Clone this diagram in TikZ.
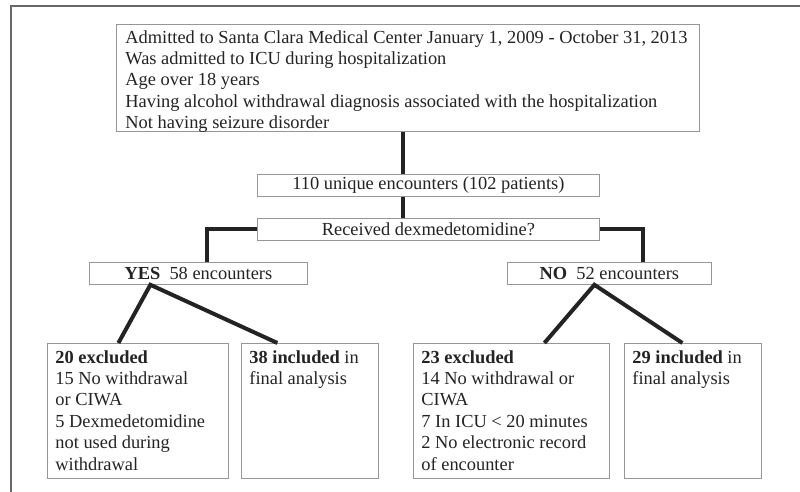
\documentclass[tikz,border=0pt]{standalone}
\usepackage{fontspec}
\setmainfont{Liberation Serif}
\definecolor{boxgray}{RGB}{150,150,150}
\definecolor{framegray}{RGB}{105,105,105}
\definecolor{inkgray}{RGB}{35,35,35}
\newcommand{\boxtext}[3]{\parbox[c][#2][t]{#1}{#3}}
\tikzset{
    common/.style={anchor=north west, draw=boxgray, line width=0.8pt, rectangle, inner sep=0pt, text=inkgray, font=\fontsize{18.4}{21.4}\selectfont},
    banner/.style={common, minimum height=22pt, align=center},
    criteria/.style={common, inner xsep=9pt},
    outcome/.style={common, inner xsep=8pt, inner ysep=7pt},
    link/.style={line width=4pt, inkgray}
}
\begin{document}
\begin{tikzpicture}[x=1pt, y=-1pt]
      \useasboundingbox (0,0) rectangle (800,492);
      \draw[framegray, line width=2pt] (11,492) -- (11,6) -- (800,6);

      \path
          (116,24) node[criteria] (top) {\boxtext{565pt}{107pt}{\vspace{6pt}Admitted to Santa Clara Medical Center January 1, 2009 - October 31, 2013\\
              Was admitted to ICU during hospitalization\\
              Age over 18 years\\
              Having alcohol withdrawal diagnosis associated with the hospitalization\\
              Not having seizure disorder}}
          (257,174) node[banner, minimum width=342pt] (enc) {110 unique encounters (102 patients)}
          (257,218) node[banner, minimum width=342pt] (ask) {Received dexmedetomidine?}
          (89,262) node[banner, minimum width=218pt] (yes) {\textbf{YES}\ \ 58 encounters}
          (507,262) node[banner, minimum width=204pt] (no) {\textbf{NO}\ \ 52 encounters};

      \path
          (47,343) node[outcome] (ex-yes) {\boxtext{165pt}{121pt}{\textbf{20 excluded}\\
              15 No withdrawal\\ or CIWA\\ 5 Dexmedetomidine\\ not used during\\ withdrawal}}
          (241,343) node[outcome] (in-yes) {\boxtext{121pt}{121pt}{\textbf{38 included} in\\ final analysis}}
          (413,343) node[outcome] (ex-no) {\boxtext{180pt}{121pt}{\textbf{23 excluded}\\
              14 No withdrawal or\\ CIWA\\ 7 In ICU < 20 minutes\\ 2 No electronic record\\ of encounter}}
          (624,343) node[outcome] (in-no) {\boxtext{121pt}{121pt}{\textbf{29 included} in\\ final analysis}};

      \draw[link] ([xshift=-4.5pt]top.south) -- ([xshift=-25pt]enc.north);
      \draw[link] ([xshift=-25pt]enc.south) -- ([xshift=-25pt]ask.north);
      \draw[link] (ask.west) -| ([xshift=9pt]yes.north);
      \draw[link] (ask.east) -| ([xshift=34pt]no.north);

      \draw[link] ([xshift=-19.5pt]ex-yes.north) -- ([xshift=-48pt]yes.south) -- ([xshift=-32.5pt]in-yes.north);
      \draw[link] ([xshift=33pt]ex-no.north) -- ([xshift=-15pt]no.south) -- ([xshift=-10.5pt]in-no.north);
\end{tikzpicture}
\end{document}
